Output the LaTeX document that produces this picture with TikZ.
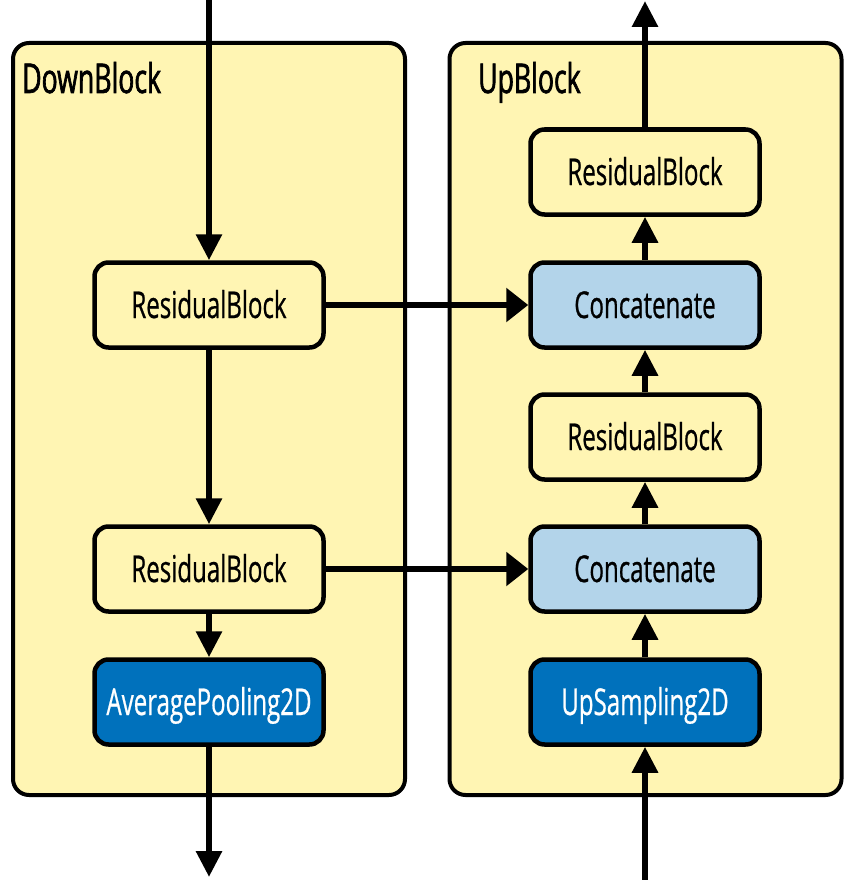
\documentclass[tikz,border=0pt]{standalone}
\usepackage{fontspec}
\setmainfont{Open Sans}[FakeStretch=0.65,FakeBold=0.6]
\newfontfamily\titlefont{Open Sans}[FakeStretch=0.65,FakeBold=1.6]
\usetikzlibrary{arrows.meta,positioning}
\definecolor{paleyellow}{HTML}{FFF5B3}
\definecolor{paleblue}{HTML}{B3D4EA}
\definecolor{deepblue}{HTML}{0071BC}

\begin{document}
\begin{tikzpicture}[x=1pt,y=-1pt,
  block/.style={draw,line width=4pt,rounded corners=16pt,fill=paleyellow,minimum width=392pt,minimum height=752pt},
  layer/.style={draw,line width=4.5pt,rounded corners=14pt,minimum width=229pt,minimum height=85pt,inner sep=0pt,
    font=\fontsize{37}{40}\selectfont,text height=26pt,text depth=0pt},
  res/.style={layer,fill=paleyellow},
  cat/.style={layer,fill=paleblue},
  samp/.style={layer,fill=deepblue,text=white},
  title/.style={anchor=base west,inner sep=0pt,font=\titlefont\fontsize{41}{44}\selectfont},
  vflow/.style={line width=6pt,-{Triangle[length=26pt,width=25pt]}},
  hflow/.style={line width=6pt,-{Triangle[length=22pt,width=33pt]}}]
\useasboundingbox (0,0) rectangle (851,880);

% the two blocks
\node[block] (down) at (209,419) {};
\node[block] (up) at (645.5,419) {};
\node[title] (downtitle) at (22,93) {DownBlock};
\node[title] (uptitle) at (478,93) {UpBlock};

% DownBlock layers
\node[res] (dres1) at (209,305) {ResidualBlock};
\node[res] (dres2) at (209,569) {ResidualBlock};
\node[samp] (pool) at (209,702) {AveragePooling2D};

% UpBlock layers
\node[samp] (upsamp) at (645,702) {UpSampling2D};
\node[cat] (cat2) at (645,569) {Concatenate};
\node[res] (ures1) at (645,437) {ResidualBlock};
\node[cat] (cat1) at (645,305) {Concatenate};
\node[res] (ures2) at (645,172) {ResidualBlock};

% loose ends
\coordinate (downin) at (209,0);
\coordinate (downout) at (209,877);
\coordinate (upin) at (645,880);
\coordinate (upout) at (645,1);

% flow
\draw[vflow] (downin) -- (dres1);
\draw[vflow] (dres1) -- (dres2);
\draw[vflow] (dres2) -- (pool);
\draw[vflow] (pool) -- (downout);
\draw[vflow] (upin) -- (upsamp);
\draw[vflow] (upsamp) -- (cat2);
\draw[vflow] (cat2) -- (ures1);
\draw[vflow] (ures1) -- (cat1);
\draw[vflow] (cat1) -- (ures2);
\draw[vflow] (ures2) -- (upout);
\draw[hflow] (dres1) -- (cat1);
\draw[hflow] (dres2) -- (cat2);
\end{tikzpicture}
\end{document}
